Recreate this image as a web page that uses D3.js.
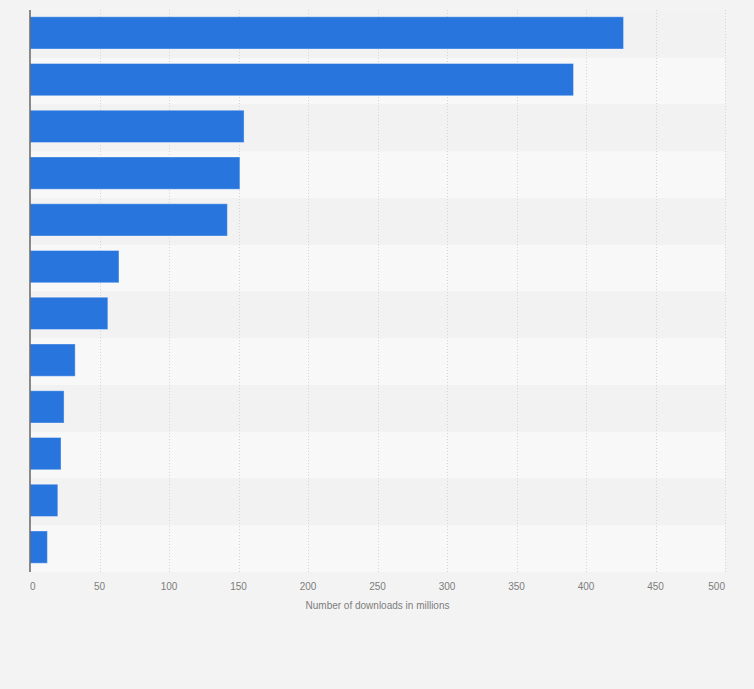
<!DOCTYPE html>
<html>
<head>
<meta charset="utf-8">
<script src="https://cdn.jsdelivr.net/npm/d3@7"></script>
<style>
    html, body { margin: 0; padding: 0; background: #f3f3f3; }
    svg { display: block; font-family: "Liberation Sans", Arial, sans-serif; }
    .tickLabel { font-size: 10px; fill: #7d7d7d; }
    .axisTitle { font-size: 10px; fill: #7d7d7d; }
</style>
</head>
<body>
<div id="chart"></div>
<script>
// ranks of the entries (no category labels are shown in the picture)
var categories = ["1", "2", "3", "4", "5", "6", "7", "8", "9", "10", "11", "12"];
// downloads in millions
var downloads = [427, 391, 154, 151, 142, 64, 56, 32.5, 24.5, 22.3, 20, 12.5];
var xTicks = [0, 50, 100, 150, 200, 250, 300, 350, 400, 450, 500];
var axisTitle = "Number of downloads in millions";

var width = 754;
var height = 689;
var margin = {top: 11, right: 29, bottom: 117, left: 30};

var svg = d3.select("#chart").append("svg")
    .attr("width", width)
    .attr("height", height);

svg.append("rect")
    .attr("width", width)
    .attr("height", height)
    .attr("fill", "#f3f3f3");

var xScale = d3.scaleLinear().domain([0, 500]).range([margin.left, width - margin.right]);
var yScale = d3.scaleBand().domain(categories).range([margin.top, height - margin.bottom]);
var step = yScale.step();
var barHeight = step * 0.69;

// alternating row bands
svg.selectAll("rect.rowBand")
    .data(categories)
    .enter().append("rect")
    .attr("class", "rowBand")
    .attr("x", xScale(0))
    .attr("y", function(d) { return yScale(d); })
    .attr("width", xScale(500) - xScale(0))
    .attr("height", step)
    .attr("fill", function(d, i) { return i % 2 == 0 ? "#f2f2f2" : "#f8f8f8"; });

// dotted vertical grid lines
svg.selectAll("line.grid")
    .data(xTicks.slice(1))
    .enter().append("line")
    .attr("class", "grid")
    .attr("x1", function(d) { return Math.round(xScale(d)) + 0.5; })
    .attr("x2", function(d) { return Math.round(xScale(d)) + 0.5; })
    .attr("y1", margin.top - 1)
    .attr("y2", height - margin.bottom)
    .attr("stroke", "#d5d5d5")
    .attr("stroke-width", 1)
    .attr("stroke-dasharray", "1,2");

// bars
var data = categories.map(function(c, i) { return {name: c, value: downloads[i]}; });
svg.selectAll("rect.bar")
    .data(data)
    .enter().append("rect")
    .attr("class", "bar")
    .attr("x", xScale(0))
    .attr("y", function(d) { return yScale(d.name) + (step - barHeight) / 2 - 1.5; })
    .attr("width", function(d) { return xScale(d.value) - xScale(0); })
    .attr("height", barHeight)
    .attr("fill", "#2876dd")
    .attr("stroke", "rgba(255,255,255,0.35)")
    .attr("stroke-width", 1);

// left axis line
svg.append("line")
    .attr("x1", xScale(0))
    .attr("x2", xScale(0))
    .attr("y1", margin.top - 1)
    .attr("y2", height - margin.bottom)
    .attr("stroke", "#666")
    .attr("stroke-width", 1.5);

// tick labels: first left-aligned, last right-aligned
svg.selectAll("text.tickLabel")
    .data(xTicks)
    .enter().append("text")
    .attr("class", "tickLabel")
    .attr("x", function(d, i) { return xScale(d); })
    .attr("y", height - margin.bottom + 18)
    .attr("text-anchor", function(d, i) {
        if (i == 0) return "start";
        if (i == xTicks.length - 1) return "end";
        return "middle";
    })
    .text(function(d) { return d; });

svg.append("text")
    .attr("class", "axisTitle")
    .attr("x", (xScale(0) + xScale(500)) / 2)
    .attr("y", height - margin.bottom + 37)
    .attr("text-anchor", "middle")
    .text(axisTitle);
</script>
</body>
</html>
